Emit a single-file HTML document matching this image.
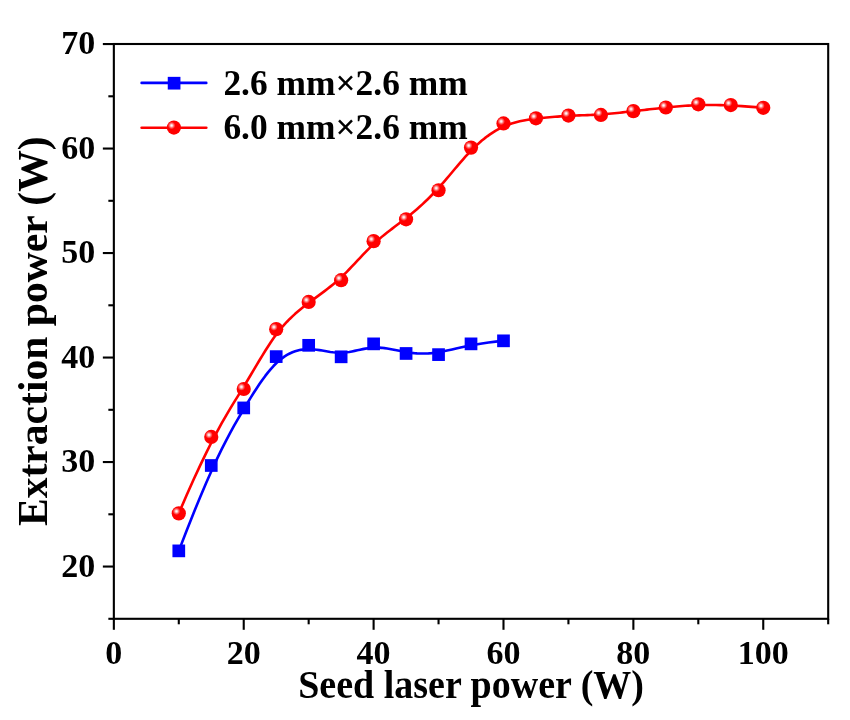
<!DOCTYPE html>
<html><head><meta charset="utf-8"><style>
html,body{margin:0;padding:0;background:#fff;}
svg{display:block;will-change:transform;}
text{font-family:"Liberation Serif","Times New Roman",serif;font-weight:bold;fill:#000;}
</style></head><body>
<svg width="850" height="720" viewBox="0 0 850 720">
<defs>
<radialGradient id="hl" cx="0.5" cy="0.5" r="0.5">
<stop offset="0" stop-color="#ffffff" stop-opacity="1"/>
<stop offset="0.25" stop-color="#ffffff" stop-opacity="0.85"/>
<stop offset="0.6" stop-color="#ffffff" stop-opacity="0.4"/>
<stop offset="1" stop-color="#ffffff" stop-opacity="0"/>
</radialGradient>
</defs>
<rect width="850" height="720" fill="#fff"/>

<rect x="113.85" y="44.00" width="714.35" height="574.80" fill="none" stroke="#000" stroke-width="2.1"/>
<line x1="108.35" y1="618.80" x2="113.85" y2="618.80" stroke="#000" stroke-width="2.1"/>
<line x1="102.85" y1="566.55" x2="113.85" y2="566.55" stroke="#000" stroke-width="2.1"/>
<text x="95.25" y="576.55" font-size="34" text-anchor="end">20</text>
<line x1="108.35" y1="514.30" x2="113.85" y2="514.30" stroke="#000" stroke-width="2.1"/>
<line x1="102.85" y1="462.05" x2="113.85" y2="462.05" stroke="#000" stroke-width="2.1"/>
<text x="95.25" y="472.05" font-size="34" text-anchor="end">30</text>
<line x1="108.35" y1="409.80" x2="113.85" y2="409.80" stroke="#000" stroke-width="2.1"/>
<line x1="102.85" y1="357.55" x2="113.85" y2="357.55" stroke="#000" stroke-width="2.1"/>
<text x="95.25" y="367.55" font-size="34" text-anchor="end">40</text>
<line x1="108.35" y1="305.30" x2="113.85" y2="305.30" stroke="#000" stroke-width="2.1"/>
<line x1="102.85" y1="253.05" x2="113.85" y2="253.05" stroke="#000" stroke-width="2.1"/>
<text x="95.25" y="263.05" font-size="34" text-anchor="end">50</text>
<line x1="108.35" y1="200.80" x2="113.85" y2="200.80" stroke="#000" stroke-width="2.1"/>
<line x1="102.85" y1="148.55" x2="113.85" y2="148.55" stroke="#000" stroke-width="2.1"/>
<text x="95.25" y="158.55" font-size="34" text-anchor="end">60</text>
<line x1="108.35" y1="96.30" x2="113.85" y2="96.30" stroke="#000" stroke-width="2.1"/>
<line x1="102.85" y1="44.05" x2="113.85" y2="44.05" stroke="#000" stroke-width="2.1"/>
<text x="95.25" y="54.05" font-size="34" text-anchor="end">70</text>
<line x1="113.85" y1="618.80" x2="113.85" y2="629.80" stroke="#000" stroke-width="2.1"/>
<text x="113.85" y="663.50" font-size="34" text-anchor="middle">0</text>
<line x1="178.79" y1="618.80" x2="178.79" y2="624.30" stroke="#000" stroke-width="2.1"/>
<line x1="243.73" y1="618.80" x2="243.73" y2="629.80" stroke="#000" stroke-width="2.1"/>
<text x="243.73" y="663.50" font-size="34" text-anchor="middle">20</text>
<line x1="308.67" y1="618.80" x2="308.67" y2="624.30" stroke="#000" stroke-width="2.1"/>
<line x1="373.61" y1="618.80" x2="373.61" y2="629.80" stroke="#000" stroke-width="2.1"/>
<text x="373.61" y="663.50" font-size="34" text-anchor="middle">40</text>
<line x1="438.55" y1="618.80" x2="438.55" y2="624.30" stroke="#000" stroke-width="2.1"/>
<line x1="503.49" y1="618.80" x2="503.49" y2="629.80" stroke="#000" stroke-width="2.1"/>
<text x="503.49" y="663.50" font-size="34" text-anchor="middle">60</text>
<line x1="568.43" y1="618.80" x2="568.43" y2="624.30" stroke="#000" stroke-width="2.1"/>
<line x1="633.37" y1="618.80" x2="633.37" y2="629.80" stroke="#000" stroke-width="2.1"/>
<text x="633.37" y="663.50" font-size="34" text-anchor="middle">80</text>
<line x1="698.31" y1="618.80" x2="698.31" y2="624.30" stroke="#000" stroke-width="2.1"/>
<line x1="763.25" y1="618.80" x2="763.25" y2="629.80" stroke="#000" stroke-width="2.1"/>
<text x="763.25" y="663.50" font-size="34" text-anchor="middle">100</text>
<line x1="828.19" y1="618.80" x2="828.19" y2="624.30" stroke="#000" stroke-width="2.1"/>
<text transform="translate(471.10,698.00) scale(1,1.05)" font-size="38" text-anchor="middle">Seed laser power (W)</text>
<text transform="translate(46.5,331.2) rotate(-90)" x="0" y="0" font-size="41.6" text-anchor="middle">Extraction power (W)</text>
<path d="M178.79,550.88 L186.58,530.68 L193.73,512.67 L200.31,496.66 L206.35,482.48 L211.90,469.96 L217.01,458.91 L221.72,449.16 L226.09,440.54 L230.16,432.86 L233.97,425.96 L237.58,419.65 L241.02,413.76 L244.35,408.15 L247.58,402.78 L250.71,397.66 L253.75,392.79 L256.72,388.18 L259.63,383.83 L262.48,379.74 L265.28,375.91 L268.04,372.34 L270.78,369.05 L273.49,366.03 L276.20,363.28 L278.91,360.81 L281.61,358.61 L284.32,356.66 L287.02,354.96 L289.73,353.51 L292.43,352.27 L295.14,351.26 L297.85,350.46 L300.55,349.85 L303.26,349.43 L305.96,349.19 L308.67,349.12 L311.38,349.20 L314.08,349.42 L316.79,349.74 L319.49,350.13 L322.20,350.57 L324.90,351.04 L327.61,351.49 L330.32,351.92 L333.02,352.28 L335.73,352.56 L338.43,352.72 L341.14,352.74 L343.85,352.60 L346.55,352.32 L349.26,351.92 L351.96,351.43 L354.67,350.88 L357.37,350.30 L360.08,349.71 L362.79,349.14 L365.49,348.62 L368.20,348.18 L370.90,347.84 L373.61,347.62 L376.32,347.56 L379.02,347.63 L381.73,347.83 L384.43,348.13 L387.14,348.51 L389.84,348.96 L392.55,349.46 L395.26,349.99 L397.96,350.53 L400.67,351.07 L403.37,351.59 L406.08,352.06 L408.79,352.48 L411.50,352.84 L414.24,353.12 L417.00,353.33 L419.80,353.46 L422.65,353.51 L425.56,353.47 L428.53,353.33 L431.57,353.10 L434.70,352.76 L437.93,352.31 L441.26,351.74 L444.70,351.06 L448.31,350.28 L452.12,349.41 L456.19,348.48 L460.56,347.49 L465.27,346.48 L470.38,345.46 L475.93,344.45 L481.97,343.46 L488.55,342.52 L495.70,341.63 L503.49,340.83" fill="none" stroke="#0000ff" stroke-width="2.6" stroke-linejoin="round"/>
<path d="M178.79,513.36 L186.58,495.32 L193.73,479.30 L200.31,465.11 L206.35,452.57 L211.90,441.52 L217.01,431.78 L221.72,423.17 L226.09,415.52 L230.16,408.66 L233.97,402.40 L237.58,396.58 L241.02,391.02 L244.35,385.57 L247.58,380.21 L250.71,374.97 L253.75,369.84 L256.72,364.85 L259.63,360.00 L262.48,355.30 L265.28,350.78 L268.04,346.43 L270.78,342.27 L273.49,338.32 L276.20,334.58 L278.91,331.06 L281.61,327.76 L284.32,324.65 L287.02,321.72 L289.73,318.95 L292.43,316.34 L295.14,313.85 L297.85,311.48 L300.55,309.22 L303.26,307.03 L305.96,304.92 L308.67,302.86 L311.38,300.84 L314.08,298.84 L316.79,296.86 L319.49,294.87 L322.20,292.87 L324.90,290.84 L327.61,288.77 L330.32,286.64 L333.02,284.45 L335.73,282.17 L338.43,279.80 L341.14,277.33 L343.85,274.74 L346.55,272.05 L349.26,269.27 L351.96,266.44 L354.67,263.57 L357.37,260.68 L360.08,257.78 L362.79,254.91 L365.49,252.07 L368.20,249.30 L370.90,246.61 L373.61,244.01 L376.32,241.53 L379.02,239.15 L381.73,236.87 L384.43,234.66 L387.14,232.52 L389.84,230.43 L392.55,228.37 L395.26,226.33 L397.96,224.29 L400.67,222.25 L403.37,220.19 L406.08,218.09 L408.79,215.95 L411.49,213.75 L414.20,211.49 L416.90,209.17 L419.61,206.79 L422.31,204.34 L425.02,201.81 L427.73,199.21 L430.43,196.53 L433.14,193.77 L435.84,190.92 L438.55,187.98 L441.26,184.95 L443.96,181.84 L446.67,178.68 L449.37,175.48 L452.08,172.25 L454.78,169.03 L457.49,165.82 L460.20,162.65 L462.90,159.53 L465.61,156.49 L468.31,153.54 L471.02,150.69 L473.73,147.97 L476.43,145.38 L479.14,142.92 L481.84,140.59 L484.55,138.39 L487.25,136.32 L489.96,134.38 L492.67,132.57 L495.37,130.89 L498.08,129.34 L500.78,127.92 L503.49,126.64 L506.20,125.49 L508.90,124.45 L511.61,123.53 L514.31,122.72 L517.02,121.99 L519.73,121.35 L522.43,120.79 L525.14,120.29 L527.84,119.84 L530.55,119.44 L533.25,119.07 L535.96,118.73 L538.67,118.41 L541.37,118.10 L544.08,117.81 L546.78,117.54 L549.49,117.28 L552.19,117.03 L554.90,116.80 L557.61,116.59 L560.31,116.39 L563.02,116.21 L565.72,116.05 L568.43,115.89 L571.14,115.76 L573.84,115.63 L576.55,115.52 L579.25,115.41 L581.96,115.30 L584.66,115.19 L587.37,115.08 L590.08,114.97 L592.78,114.84 L595.49,114.70 L598.19,114.55 L600.90,114.38 L603.61,114.19 L606.31,113.97 L609.02,113.74 L611.72,113.49 L614.43,113.23 L617.13,112.96 L619.84,112.67 L622.55,112.38 L625.25,112.08 L627.96,111.77 L630.66,111.47 L633.37,111.16 L636.08,110.85 L638.78,110.54 L641.49,110.23 L644.19,109.93 L646.90,109.62 L649.61,109.32 L652.31,109.02 L655.02,108.73 L657.72,108.43 L660.43,108.14 L663.13,107.85 L665.84,107.57 L668.55,107.29 L671.26,107.01 L674.00,106.75 L676.76,106.49 L679.56,106.24 L682.41,106.01 L685.32,105.80 L688.29,105.60 L691.33,105.43 L694.46,105.28 L697.69,105.15 L701.02,105.05 L704.46,104.98 L708.07,104.95 L711.88,104.96 L715.95,105.01 L720.32,105.11 L725.03,105.28 L730.14,105.50 L735.69,105.80 L741.73,106.17 L748.31,106.62 L755.46,107.16 L763.25,107.80" fill="none" stroke="#ff0000" stroke-width="2.6" stroke-linejoin="round"/>
<rect x="172.44" y="544.52" width="12.7" height="12.7" fill="#0000ff"/>
<rect x="204.91" y="459.15" width="12.7" height="12.7" fill="#0000ff"/>
<rect x="237.38" y="401.57" width="12.7" height="12.7" fill="#0000ff"/>
<rect x="269.85" y="350.26" width="12.7" height="12.7" fill="#0000ff"/>
<rect x="302.32" y="338.97" width="12.7" height="12.7" fill="#0000ff"/>
<rect x="334.79" y="350.47" width="12.7" height="12.7" fill="#0000ff"/>
<rect x="367.26" y="337.51" width="12.7" height="12.7" fill="#0000ff"/>
<rect x="399.73" y="347.12" width="12.7" height="12.7" fill="#0000ff"/>
<rect x="432.20" y="348.27" width="12.7" height="12.7" fill="#0000ff"/>
<rect x="464.67" y="337.51" width="12.7" height="12.7" fill="#0000ff"/>
<rect x="497.14" y="334.48" width="12.7" height="12.7" fill="#0000ff"/>
<circle cx="178.79" cy="513.36" r="7.1" fill="#ff0000"/><circle cx="176.49" cy="511.26" r="3.8" fill="url(#hl)"/>
<circle cx="211.26" cy="436.97" r="7.1" fill="#ff0000"/><circle cx="208.96" cy="434.87" r="3.8" fill="url(#hl)"/>
<circle cx="243.73" cy="389.00" r="7.1" fill="#ff0000"/><circle cx="241.43" cy="386.90" r="3.8" fill="url(#hl)"/>
<circle cx="276.20" cy="329.13" r="7.1" fill="#ff0000"/><circle cx="273.90" cy="327.03" r="3.8" fill="url(#hl)"/>
<circle cx="308.67" cy="301.96" r="7.1" fill="#ff0000"/><circle cx="306.37" cy="299.86" r="3.8" fill="url(#hl)"/>
<circle cx="341.14" cy="280.22" r="7.1" fill="#ff0000"/><circle cx="338.84" cy="278.12" r="3.8" fill="url(#hl)"/>
<circle cx="373.61" cy="241.14" r="7.1" fill="#ff0000"/><circle cx="371.31" cy="239.04" r="3.8" fill="url(#hl)"/>
<circle cx="406.08" cy="219.30" r="7.1" fill="#ff0000"/><circle cx="403.78" cy="217.20" r="3.8" fill="url(#hl)"/>
<circle cx="438.55" cy="190.25" r="7.1" fill="#ff0000"/><circle cx="436.25" cy="188.15" r="3.8" fill="url(#hl)"/>
<circle cx="471.02" cy="147.61" r="7.1" fill="#ff0000"/><circle cx="468.72" cy="145.51" r="3.8" fill="url(#hl)"/>
<circle cx="503.49" cy="123.47" r="7.1" fill="#ff0000"/><circle cx="501.19" cy="121.37" r="3.8" fill="url(#hl)"/>
<circle cx="535.96" cy="118.35" r="7.1" fill="#ff0000"/><circle cx="533.66" cy="116.25" r="3.8" fill="url(#hl)"/>
<circle cx="568.43" cy="115.53" r="7.1" fill="#ff0000"/><circle cx="566.13" cy="113.43" r="3.8" fill="url(#hl)"/>
<circle cx="600.90" cy="114.90" r="7.1" fill="#ff0000"/><circle cx="598.60" cy="112.80" r="3.8" fill="url(#hl)"/>
<circle cx="633.37" cy="111.14" r="7.1" fill="#ff0000"/><circle cx="631.07" cy="109.04" r="3.8" fill="url(#hl)"/>
<circle cx="665.84" cy="107.48" r="7.1" fill="#ff0000"/><circle cx="663.54" cy="105.38" r="3.8" fill="url(#hl)"/>
<circle cx="698.31" cy="104.35" r="7.1" fill="#ff0000"/><circle cx="696.01" cy="102.25" r="3.8" fill="url(#hl)"/>
<circle cx="730.78" cy="105.08" r="7.1" fill="#ff0000"/><circle cx="728.48" cy="102.98" r="3.8" fill="url(#hl)"/>
<circle cx="763.25" cy="107.80" r="7.1" fill="#ff0000"/><circle cx="760.95" cy="105.70" r="3.8" fill="url(#hl)"/>
<line x1="141.6" y1="82.9" x2="206.3" y2="82.9" stroke="#0000ff" stroke-width="2.6" stroke-linecap="round"/>
<rect x="167.75" y="76.85" width="12.7" height="12.7" fill="#0000ff"/>
<line x1="141.6" y1="127.8" x2="206.3" y2="127.8" stroke="#ff0000" stroke-width="2.6" stroke-linecap="round"/>
<circle cx="173.90" cy="127.60" r="7.1" fill="#ff0000"/><circle cx="171.60" cy="125.50" r="3.8" fill="url(#hl)"/>
<text x="223.40" y="95.00" font-size="35.4">2.6 mm×2.6 mm</text>
<text x="223.40" y="139.00" font-size="35.4">6.0 mm×2.6 mm</text>
</svg>
</body></html>
